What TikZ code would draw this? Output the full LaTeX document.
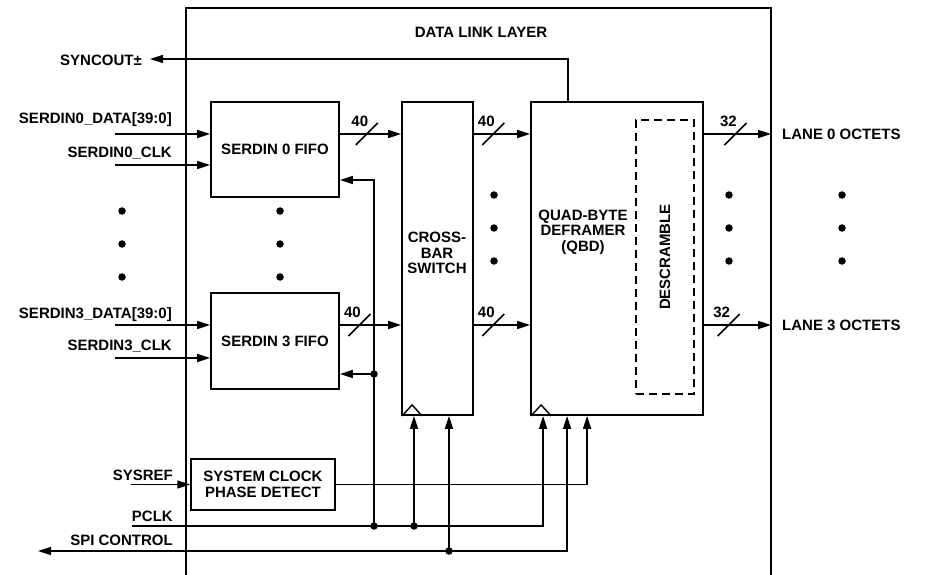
\documentclass[tikz,border=0pt]{standalone}
\usepackage{fontspec}
\setmainfont{Liberation Sans}
\usetikzlibrary{arrows.meta,calc}
\newcommand\busmark[2]{%
  \draw[wire] ($(#1)+(-11,11)$) -- ($(#1)+(11,-11)$);
  \node[lbl] at ($(#1)+(-7,-13)$) {#2};}
\begin{document}
\begin{tikzpicture}[x=1pt,y=-1pt,
  font=\fontsize{15}{15.5}\selectfont\bfseries,
  box/.style={draw, line width=1.8pt, inner sep=0pt, align=center},
  wire/.style={line width=1.6pt},
  arr/.style={wire, -{Triangle[length=13pt,width=8pt]}},
  dotnode/.style={circle, fill, inner sep=0pt, minimum size=7.5pt},
  lbl/.style={inner sep=0pt, align=center},
  clk/.style={line width=1.4pt}]
\useasboundingbox (0,0) rectangle (930,575);

% outer data link layer frame (open at bottom)
\draw[line width=1.6pt] (186,575) -- (186,8) -- (771,8) -- (771,575);

% blocks
\node[box, minimum width=128pt, minimum height=95pt] (fifo0) at (275,149.5) {SERDIN 0 FIFO};
\node[box, minimum width=128pt, minimum height=96pt] (fifo3) at (275,341) {SERDIN 3 FIFO};
\node[box, minimum width=71pt, minimum height=313pt] (cross) at (437.5,258.5) {};
\node[lbl] (crosst) at (437,253) {CROSS-\\BAR\\SWITCH};
\node[box, minimum width=172pt, minimum height=313pt] (qbd) at (617,258.5) {};
\node[lbl] (qbdt) at (583,232) {QUAD-BYTE\\DEFRAMER\\(QBD)};
\node[box, dash pattern=on 8pt off 5pt, minimum width=58pt, minimum height=274pt] (desc) at (665,257) {};
\node[lbl, rotate=90] (desct) at (665,257) {DESCRAMBLE};
\node[box, line width=1.5pt, minimum width=144pt, minimum height=51pt] (phase) at (263,484.5) {SYSTEM CLOCK\\PHASE DETECT};

% clock triangles
\draw[clk] ([xshift=1pt]cross.south west) -- ++(10,-11) -- ++(10,11);
\draw[clk] ([xshift=1pt]qbd.south west) -- ++(10,-11) -- ++(10,11);

% labels
\node[lbl] (dll) at (481,32) {DATA LINK LAYER};
\node[lbl, anchor=east] (syl) at (142,60) {SYNCOUT±};
\node[lbl, anchor=east] (d0l) at (172,120) {SERDIN0\_DATA[39:0]};
\node[lbl, anchor=east] (c0l) at (172,153) {SERDIN0\_CLK};
\node[lbl, anchor=east] (d3l) at (172,315) {SERDIN3\_DATA[39:0]};
\node[lbl, anchor=east] (c3l) at (172,346) {SERDIN3\_CLK};
\node[lbl, anchor=east] (srl) at (173,475) {SYSREF};
\node[lbl, anchor=east] (pcl) at (173,516) {PCLK};
\node[lbl, anchor=east] (spl) at (173,540) {SPI CONTROL};
\node[lbl, anchor=west] (l0) at (782,134) {LANE 0 OCTETS};
\node[lbl, anchor=west] (l3) at (782,325) {LANE 3 OCTETS};

% inputs
\coordinate (d0) at (115,134);
\coordinate (c0) at (115,165);
\coordinate (d3) at (115,325);
\coordinate (c3) at (115,358);
\draw[arr] (d0) -- (d0 -| fifo0.west);
\draw[arr] (c0) -- (c0 -| fifo0.west);
\draw[arr] (d3) -- (d3 -| fifo3.west);
\draw[arr] (c3) -- (c3 -| fifo3.west);

% data buses
\draw[arr] (fifo0.east |- d0) -- node[pos=0.44, inner sep=0pt] (s1) {} (cross.west |- d0);
\draw[arr] (fifo3.east |- d3) -- node[pos=0.32, inner sep=0pt] (s2) {} (cross.west |- d3);
\draw[arr] (cross.east |- d0) -- node[pos=0.345, inner sep=0pt] (s3) {} (qbd.west |- d0);
\draw[arr] (cross.east |- d3) -- node[pos=0.345, inner sep=0pt] (s4) {} (qbd.west |- d3);
\coordinate (o0) at (771,134);
\coordinate (o3) at (771,325);
\draw[arr] (qbd.east |- o0) -- node[pos=0.47, inner sep=0pt] (s5) {} (o0);
\draw[arr] (qbd.east |- o3) -- node[pos=0.37, inner sep=0pt] (s6) {} (o3);
\busmark{s1}{40}
\busmark{s2}{40}
\busmark{s3}{40}
\busmark{s4}{40}
\busmark{s5}{32}
\busmark{s6}{32}

% SYNCOUT
\draw[arr] (qbd.north -| 568,0) |- ([xshift=8pt,yshift=1pt]syl.east);

% ellipsis dots
\foreach \yy [count=\i] in {211,244,277} {
  \node[dotnode] (da\i) at (122,\yy) {};
  \node[dotnode] (db\i) at (280,\yy) {};
}
\foreach \yy [count=\i] in {195,228,261} {
  \node[dotnode] (dc\i) at (494,\yy) {};
  \node[dotnode] (dd\i) at (729,\yy) {};
  \node[dotnode] (de\i) at (842,\yy) {};
}

% SYSREF
\coordinate (sr) at (131,484.5);
\draw[arr] (sr) -- (phase.west);
\draw[arr] (phase.east) -| ([xshift=57pt]qbd.south west);

% PCLK
\coordinate (pc) at (132,526);
\draw[arr] (pc) -| ([xshift=13pt]qbd.south west);
\node[dotnode] (jp1) at (374,526) {};
\node[dotnode] (jp2) at (414,526) {};
\node[dotnode] (jf3) at (374,374) {};
\draw[arr] (jp1.center) |- ([yshift=-30.5pt]fifo0.east);
\draw[arr] (jf3.center) -- (jf3 -| fifo3.east);
\draw[arr] (jp2.center) -- (jp2 |- cross.south);

% SPI CONTROL
\coordinate (sp) at (38,551);
\draw[wire, {Triangle[length=13pt,width=8pt]}-{Triangle[length=13pt,width=8pt]}] (sp) -| ([xshift=37pt]qbd.south west);
\node[dotnode] (js) at (449,551) {};
\draw[arr] (js.center) -- (js |- cross.south);
\end{tikzpicture}
\end{document}
